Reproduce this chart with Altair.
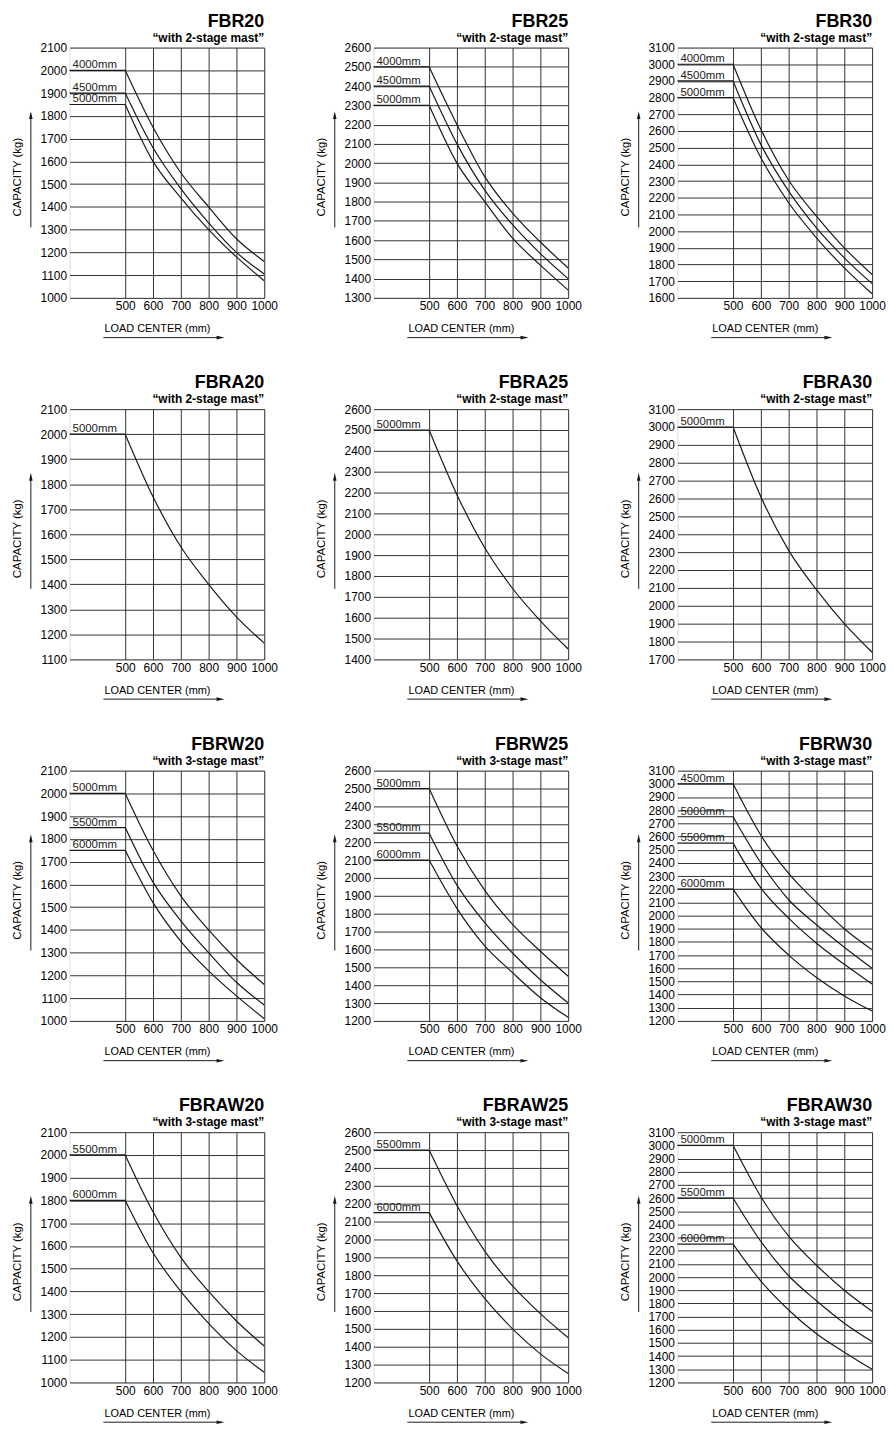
import altair as alt
import pandas as pd

# ---------------- data ----------------
LOAD_CENTERS = [500, 600, 700, 800, 900, 1000]
X_DOMAIN = [300, 1000]

FBR20 = {"4000mm": [2000, 1750, 1550, 1400, 1260, 1160],
         "4500mm": [1900, 1660, 1480, 1330, 1200, 1105],
         "5000mm": [1850, 1600, 1440, 1300, 1180, 1075]}
FBR25 = {"4000mm": [2500, 2200, 1930, 1740, 1590, 1455],
         "4500mm": [2400, 2100, 1860, 1680, 1530, 1400],
         "5000mm": [2300, 2000, 1800, 1610, 1470, 1340]}
FBR30 = {"4000mm": [3000, 2610, 2305, 2090, 1900, 1740],
         "4500mm": [2900, 2520, 2240, 2020, 1840, 1685],
         "5000mm": [2800, 2440, 2170, 1960, 1780, 1625]}

FBRA20 = {"5000mm": [2000, 1750, 1550, 1400, 1270, 1165]}
FBRA25 = {"5000mm": [2500, 2190, 1935, 1740, 1585, 1450]}
FBRA30 = {"5000mm": [3000, 2610, 2310, 2090, 1900, 1740]}

FBRW20 = {"5000mm": [2000, 1750, 1550, 1400, 1270, 1160],
          "5500mm": [1850, 1610, 1440, 1300, 1170, 1070],
          "6000mm": [1750, 1520, 1350, 1220, 1110, 1010]}
FBRW25 = {"5000mm": [2500, 2180, 1930, 1740, 1590, 1450],
          "5500mm": [2250, 1960, 1750, 1580, 1430, 1300],
          "6000mm": [2100, 1830, 1620, 1470, 1330, 1220]}
FBRW30 = {"4500mm": [3000, 2610, 2320, 2100, 1900, 1740],
          "5000mm": [2750, 2400, 2120, 1930, 1760, 1600],
          "5500mm": [2550, 2210, 1980, 1790, 1630, 1480],
          "6000mm": [2200, 1910, 1700, 1530, 1390, 1275]}

FBRAW20 = {"5500mm": [2000, 1750, 1550, 1400, 1270, 1160],
           "6000mm": [1800, 1570, 1400, 1260, 1140, 1045]}
FBRAW25 = {"5500mm": [2500, 2190, 1935, 1740, 1585, 1450],
           "6000mm": [2150, 1880, 1670, 1500, 1360, 1250]}
FBRAW30 = {"5000mm": [3000, 2610, 2310, 2090, 1900, 1740],
           "5500mm": [2600, 2270, 2010, 1820, 1650, 1510],
           "6000mm": [2250, 1970, 1750, 1570, 1430, 1300]}

MODELS = ["FBR20", "FBR25", "FBR30",
          "FBRA20", "FBRA25", "FBRA30",
          "FBRW20", "FBRW25", "FBRW30",
          "FBRAW20", "FBRAW25", "FBRAW30"]
SERIES = [FBR20, FBR25, FBR30, FBRA20, FBRA25, FBRA30,
          FBRW20, FBRW25, FBRW30, FBRAW20, FBRAW25, FBRAW30]
STAGES = ["2-stage"] * 6 + ["3-stage"] * 6
Y_MIN = [1000, 1300, 1600, 1100, 1400, 1700, 1000, 1200, 1200, 1000, 1200, 1200]
Y_MAX = [2100, 2600, 3100, 2100, 2600, 3100, 2100, 2600, 3100, 2100, 2600, 3100]

# ---------------- styling ----------------
W, H = 196, 252
FONT = "Liberation Sans"
INK = "#1a1a1a"
GRID = "#333333"
ONE = alt.Data(values=[{"k": 1}])


def panel(name, stage, ymin, ymax, series):
    rows = []
    for mast, caps in series.items():
        for lc, cap in zip(LOAD_CENTERS, caps):
            rows.append({"mast": mast, "lc": lc, "lc0": X_DOMAIN[0], "cap": cap})
    df = pd.DataFrame(rows)
    start = df[df["lc"] == LOAD_CENTERS[0]]
    yticks = list(range(ymin, ymax + 1, 100))

    xs = alt.Scale(domain=X_DOMAIN, nice=False, zero=False)
    ys = alt.Scale(domain=[ymin, ymax], nice=False, zero=False)
    xaxis = alt.Axis(values=LOAD_CENTERS, format="d", grid=True, ticks=False,
                     domain=False, gridColor=GRID, gridWidth=1, gridOpacity=1,
                     labelPadding=3, labelFontSize=12, labelOverlap=False,
                     labelFlush=False, labelColor="black", labelFont=FONT,
                     title="LOAD CENTER (mm)",
                     titleX=88, titleY=31, titleAlign="center",
                     titleBaseline="middle", titleFontSize=11,
                     titleFontWeight="normal", titleColor="black",
                     titleFont=FONT)
    yaxis = alt.Axis(values=yticks, format="d", grid=True, ticks=False,
                     domain=False, gridColor=GRID, gridWidth=1, gridOpacity=1,
                     labelPadding=3, labelFontSize=12, labelOverlap=False,
                     labelFlush=False, labelColor="black", labelFont=FONT,
                     title="CAPACITY (kg)",
                     titleX=-52, titleY=130, titleAngle=270,
                     titleAlign="center", titleBaseline="middle",
                     titleFontSize=11.5, titleFontWeight="normal",
                     titleColor="black", titleFont=FONT)

    curves = alt.Chart(df).mark_line(interpolate="monotone", color=INK,
                                     strokeWidth=1.2).encode(
        x=alt.X("lc:Q", scale=xs, axis=xaxis),
        y=alt.Y("cap:Q", scale=ys, axis=yaxis),
        detail="mast:N")
    flats = alt.Chart(start).mark_rule(color=INK, strokeWidth=1.2).encode(
        x=alt.X("lc0:Q", scale=xs, axis=xaxis),
        x2="lc:Q",
        y=alt.Y("cap:Q", scale=ys, axis=yaxis))
    labels = alt.Chart(start).mark_text(
        align="left", baseline="bottom", dx=3, dy=0, fontSize=11.5,
        font=FONT, color=INK).encode(
        x=alt.X("lc0:Q", scale=xs, axis=xaxis),
        y=alt.Y("cap:Q", scale=ys, axis=yaxis),
        text="mast:N")

    # axis-title arrows
    xline = alt.Chart(ONE).mark_rule(color=INK, strokeWidth=1).encode(
        x=alt.value(34), x2=alt.value(151), y=alt.value(H + 40))
    xhead = alt.Chart(ONE).mark_point(
        shape="M-1,-0.45L1,0L-1,0.45Z", filled=True, color=INK, opacity=1,
        size=64, strokeWidth=0).encode(x=alt.value(152), y=alt.value(H + 40))
    yline = alt.Chart(ONE).mark_rule(color=INK, strokeWidth=1).encode(
        x=alt.value(-39), y=alt.value(70), y2=alt.value(181))
    yhead = alt.Chart(ONE).mark_point(
        shape="M-0.45,1L0,-1L0.45,1Z", filled=True, color=INK, opacity=1,
        size=64, strokeWidth=0).encode(x=alt.value(-39), y=alt.value(68))

    return alt.layer(curves, flats, labels, xline, xhead, yline, yhead).properties(
        width=W, height=H,
        title=alt.TitleParams(
            text=name, subtitle=f"\u201cwith {stage} mast\u201d",
            anchor="end", frame="group", fontSize=18, fontWeight="bold",
            subtitleFontSize=12, subtitleFontWeight="bold", subtitlePadding=2,
            offset=-2, color="black", subtitleColor="black",
            font=FONT, subtitleFont=FONT))


panels = [panel(MODELS[i], STAGES[i], Y_MIN[i], Y_MAX[i], SERIES[i])
          for i in range(len(MODELS))]

chart = alt.concat(*panels, columns=3, spacing={"row": 112, "column": 110},
                   bounds="flush").properties(
    padding={"left": 3, "top": -1, "right": 0, "bottom": 0}
).configure_view(
    stroke=INK, strokeWidth=1.2
).configure(background="white")

chart.save("out.html", embed_options={"renderer": "svg", "actions": False})
